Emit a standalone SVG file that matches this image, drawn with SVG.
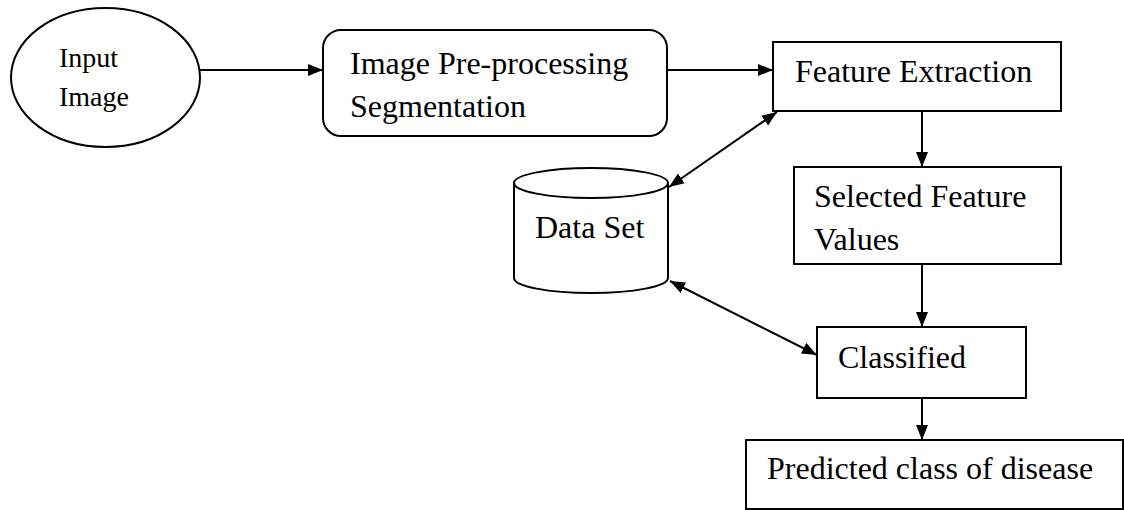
<svg xmlns="http://www.w3.org/2000/svg" width="1124" height="510" viewBox="0 0 1124 510">
  <style>
    .shape { fill: #ffffff; stroke: #000000; stroke-width: 2; }
    .label { font-family: "Liberation Serif", "Times New Roman", serif; font-size: 32px; fill: #000000; }
    .small { font-size: 28px; }
    .edge { fill: none; stroke: #000000; stroke-width: 2; }
  </style>
  <defs>
    <marker id="arrow" viewBox="0 0 15 12" refX="15" refY="6" markerWidth="15" markerHeight="12" markerUnits="userSpaceOnUse" orient="auto-start-reverse">
      <path d="M0,0 L15,6 L0,12 Z" fill="#000000"/>
    </marker>
  </defs>
  <rect width="1124" height="510" fill="#ffffff"/>

  <!-- connectors -->
  <g id="connectors">
    <line class="edge" x1="200" y1="70" x2="323" y2="70" marker-end="url(#arrow)"/>
    <line class="edge" x1="667" y1="70" x2="773" y2="70" marker-end="url(#arrow)"/>
    <line class="edge" x1="922" y1="111" x2="922" y2="167" marker-end="url(#arrow)"/>
    <line class="edge" x1="922" y1="264" x2="922" y2="327" marker-end="url(#arrow)"/>
    <line class="edge" x1="922" y1="398" x2="922" y2="440" marker-end="url(#arrow)"/>
    <line class="edge" x1="669" y1="187" x2="777" y2="112" marker-start="url(#arrow)" marker-end="url(#arrow)"/>
    <line class="edge" x1="670" y1="281" x2="817" y2="355" marker-start="url(#arrow)" marker-end="url(#arrow)"/>
  </g>

  <g id="input-image">
    <ellipse class="shape" cx="105.5" cy="77.5" rx="94.5" ry="69.5"/>
    <text class="label small" x="59" y="67">Input</text>
    <text class="label small" x="59" y="106">Image</text>
  </g>

  <g id="preprocessing">
    <rect class="shape" x="323" y="30" width="344" height="106" rx="18" ry="18"/>
    <text class="label" x="350" y="74">Image Pre-processing</text>
    <text class="label" x="350" y="117">Segmentation</text>
  </g>

  <g id="feature-extraction">
    <rect class="shape" x="773" y="42" width="288" height="69"/>
    <text class="label" x="795" y="82">Feature Extraction</text>
  </g>

  <g id="selected-features">
    <rect class="shape" x="794" y="167" width="267" height="97"/>
    <text class="label" x="814" y="207">Selected Feature</text>
    <text class="label" x="814" y="250">Values</text>
  </g>

  <g id="data-set">
    <path class="shape" d="M514,183 L514,278 A77,15 0 0 0 668,278 L668,183"/>
    <ellipse class="shape" cx="591" cy="183" rx="77" ry="15"/>
    <text class="label" x="535" y="238">Data Set</text>
  </g>

  <g id="classified">
    <rect class="shape" x="817" y="327" width="209" height="71"/>
    <text class="label" x="838" y="368">Classified</text>
  </g>

  <g id="predicted-class">
    <rect class="shape" x="746" y="440" width="377" height="69"/>
    <text class="label" x="767" y="479">Predicted class of disease</text>
  </g>
</svg>
